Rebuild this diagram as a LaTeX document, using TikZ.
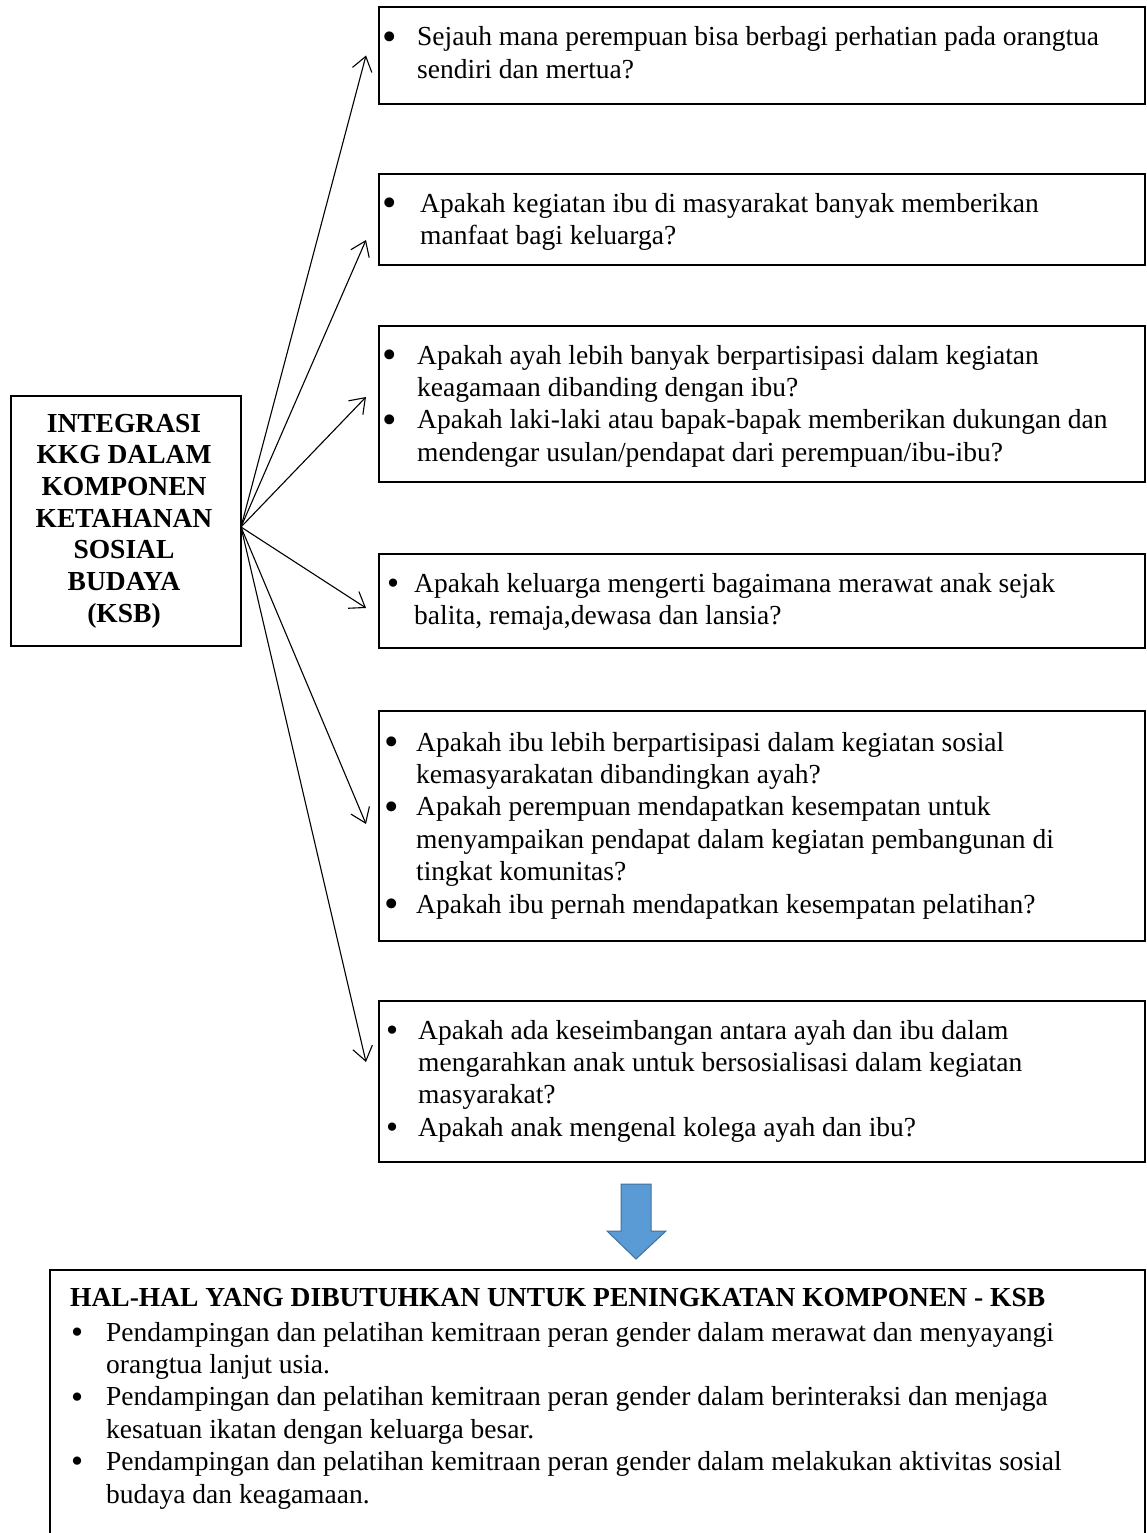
\documentclass[tikz,border=0pt]{standalone}
\usepackage{fontspec}
\setmainfont{Liberation Serif}
\usetikzlibrary{arrows.meta,calc}
\definecolor{arrowblue}{HTML}{5B9BD5}
\definecolor{arrowedge}{HTML}{41719C}
\newcommand{\qbul}{\raisebox{-4.5pt}{\scalebox{1.5}{\textbullet}}}
\newcommand{\qbulsmall}{\raisebox{-2.3pt}{\scalebox{1.25}{\textbullet}}}
\tikzset{
  qbox/.style={draw=black, line width=2.3pt, rectangle, inner sep=0pt, outer sep=0pt, anchor=north west},
  qtext/.style={inner sep=0pt, anchor=base west, align=left, font=\fontsize{27.5}{32.4}\selectfont},
  conn/.style={line width=1.1pt, -{Straight Barb[length=14pt,width=20pt]}},
  bigarrow/.style={fill=arrowblue, draw=arrowedge, line width=1pt, line join=miter},
}
\begin{document}
\begin{tikzpicture}[x=1pt,y=-1pt]
\useasboundingbox (0,0) rectangle (1147,1533);
\fill[white] (0,0) rectangle (1147,1533);
\clip (0,0) rectangle (1147,1533);

% boxes
\node[qbox, minimum width=766pt, minimum height=97pt]  (B1) at (379,7) {};
\node[qbox, minimum width=766pt, minimum height=91pt]  (B2) at (379,174) {};
\node[qbox, minimum width=766pt, minimum height=156pt] (B3) at (379,326) {};
\node[qbox, minimum width=766pt, minimum height=94pt]  (B4) at (379,554) {};
\node[qbox, minimum width=766pt, minimum height=230pt] (B5) at (379,711) {};
\node[qbox, minimum width=766pt, minimum height=161pt] (B6) at (379,1001) {};
\node[qbox, minimum width=230pt, minimum height=250pt] (L) at (11,396) {};
\node[qbox, minimum width=1095pt, minimum height=290pt] (BB) at (50,1270) {};

% left box text
\node[inner sep=0pt, anchor=base, font=\bfseries\fontsize{27.5}{31.7}\selectfont] (LT) at (124,432)
 {\begin{tabular}[t]{@{}c@{}}INTEGRASI\\KKG DALAM\\KOMPONEN\\KETAHANAN\\SOSIAL\\BUDAYA\\(KSB)\end{tabular}};

% question texts
\node[qtext] (T1) at (382,46) {\begin{tabular}[t]{@{}p{35pt}@{}l@{}}
\qbul & Sejauh mana perempuan bisa berbagi perhatian pada orangtua\\
 & sendiri dan mertua?\end{tabular}};
\node[qtext] (T2) at (382,212) {\begin{tabular}[t]{@{}p{38pt}@{}l@{}}
\qbul & Apakah kegiatan ibu di masyarakat banyak memberikan\\
 & manfaat bagi keluarga?\end{tabular}};
\node[qtext] (T3) at (382,364) {\begin{tabular}[t]{@{}p{35pt}@{}l@{}}
\qbul & Apakah ayah lebih banyak berpartisipasi dalam kegiatan\\
 & keagamaan dibanding dengan ibu?\\
\qbul & Apakah laki-laki atau bapak-bapak memberikan dukungan dan\\
 & mendengar usulan/pendapat dari perempuan/ibu-ibu?\end{tabular}};
\node[qtext] (T4) at (387,592) {\begin{tabular}[t]{@{}p{27pt}@{}l@{}}
\qbulsmall & Apakah keluarga mengerti bagaimana merawat anak sejak\\
 & balita, remaja,dewasa dan lansia?\end{tabular}};
\node[qtext] (T5) at (384,751) {\begin{tabular}[t]{@{}p{32pt}@{}l@{}}
\qbul & Apakah ibu lebih berpartisipasi dalam kegiatan sosial\\
 & kemasyarakatan dibandingkan ayah?\\
\qbul & Apakah perempuan mendapatkan kesempatan untuk\\
 & menyampaikan pendapat dalam kegiatan pembangunan di\\
 & tingkat komunitas?\\
\qbul & Apakah ibu pernah mendapatkan kesempatan pelatihan?\end{tabular}};
\node[qtext] (T6) at (386,1039) {\begin{tabular}[t]{@{}p{32pt}@{}l@{}}
\qbulsmall & Apakah ada keseimbangan antara ayah dan ibu dalam\\
 & mengarahkan anak untuk bersosialisasi dalam kegiatan\\
 & masyarakat?\\
\qbulsmall & Apakah anak mengenal kolega ayah dan ibu?\end{tabular}};

% bottom box text
\node[qtext, font=\bfseries\fontsize{27.5}{32.4}\selectfont] (HT) at (70,1306)
 {HAL-HAL YANG DIBUTUHKAN UNTUK PENINGKATAN KOMPONEN - KSB};
\node[qtext] (HL) at (71,1341) {\begin{tabular}[t]{@{}p{35pt}@{}l@{}}
\qbulsmall & Pendampingan dan pelatihan kemitraan peran gender dalam merawat dan menyayangi\\
 & orangtua lanjut usia.\\
\qbulsmall & Pendampingan dan pelatihan kemitraan peran gender dalam berinteraksi dan menjaga\\
 & kesatuan ikatan dengan keluarga besar.\\
\qbulsmall & Pendampingan dan pelatihan kemitraan peran gender dalam melakukan aktivitas sosial\\
 & budaya dan keagamaan.\end{tabular}};

% connectors
\coordinate (o) at ([yshift=-131pt]L.north east);
\coordinate (t1) at ([xshift=-13pt,yshift=0pt]B1.west);
\coordinate (t2) at ([xshift=-13pt,yshift=-20.5pt]B2.west);
\coordinate (t3) at ([xshift=-13pt,yshift=7pt]B3.west);
\coordinate (t4) at ([xshift=-13pt,yshift=-7pt]B4.west);
\coordinate (t5) at ([xshift=-13pt,yshift=2pt]B5.west);
\coordinate (t6) at ([xshift=-13pt,yshift=19.5pt]B6.west);
\foreach \t in {t1,t2,t3,t4,t5,t6} \draw[conn] (o) -- (\t);

% block arrow
\draw[bigarrow] (621,1184) -- (651,1184) -- (651,1231) -- (666,1231) -- (636,1259)
  -- (607,1231) -- (621,1231) -- cycle;
\end{tikzpicture}
\end{document}
